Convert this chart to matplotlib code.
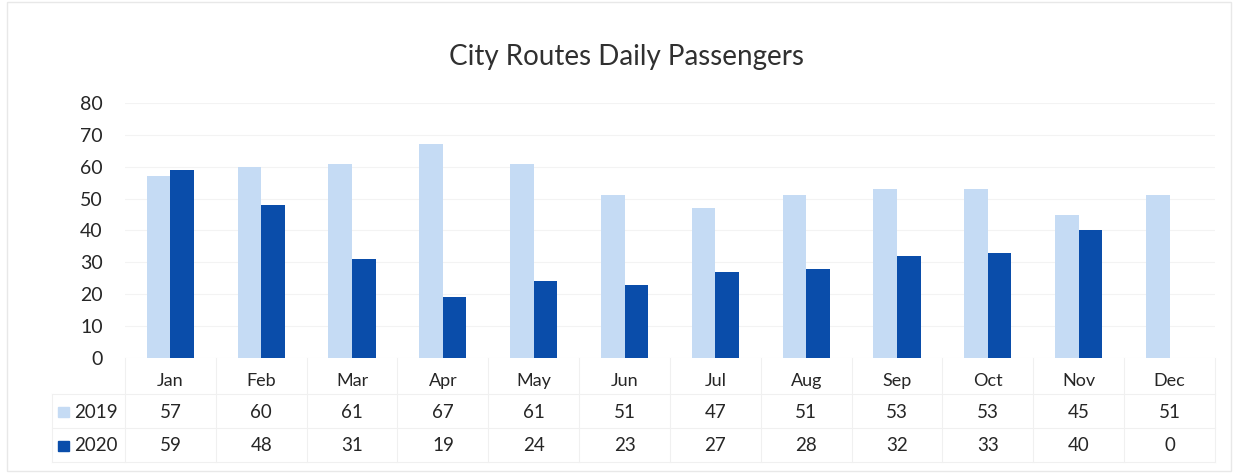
import matplotlib.pyplot as plt
import matplotlib.transforms as mtransforms
from matplotlib.patches import Rectangle
import numpy as np

plt.rcParams['font.family'] = ['Lato', 'DejaVu Sans']

months = ['Jan', 'Feb', 'Mar', 'Apr', 'May', 'Jun', 'Jul', 'Aug', 'Sep', 'Oct', 'Nov', 'Dec']
series_names = ['2019', '2020']
pass_2019 = [57, 60, 61, 67, 61, 51, 47, 51, 53, 53, 45, 51]
pass_2020 = [59, 48, 31, 19, 24, 23, 27, 28, 32, 33, 40, 0]
yticks = [0, 10, 20, 30, 40, 50, 60, 70, 80]

light = '#C5DBF4'
dark = '#0A4DAA'
text_col = '#262626'

fig = plt.figure(figsize=(12.41, 4.76), dpi=100)
ax = fig.add_axes([0.1007, 0.248, 0.8783, 0.5356])

x = np.arange(len(months))
w = 0.26
ax.bar(x - w / 2, pass_2019, w, color=light, label='2019')
ax.bar(x + w / 2, pass_2020, w, color=dark, label='2020')

ax.set_xlim(-0.5, len(months) - 0.5)
ax.set_ylim(0, 80)
ax.set_yticks(yticks)
ax.set_yticklabels([str(v) for v in yticks], fontsize=14, color=text_col)
ax.tick_params(axis='y', length=0, pad=16)
ax.set_xticks(x)
ax.set_xticklabels(months, fontsize=13, color=text_col)
ax.tick_params(axis='x', length=0, pad=11)
ax.grid(axis='y', color='#f3f3f3', linewidth=0.8)
ax.set_axisbelow(True)
for s in ax.spines.values():
    s.set_visible(False)

# title centred on the whole chart, not the plot area
fig.text(0.505, 0.88, 'City Routes Daily Passengers', fontsize=20, color='#303030',
         ha='center', va='center')

# data table under the axis
trans = mtransforms.blended_transform_factory(ax.transData, ax.transAxes)
row_y = [-0.212, -0.345]
for yy, vals in zip(row_y, [pass_2019, pass_2020]):
    for xi, v in zip(x, vals):
        ax.text(xi, yy, str(v), transform=trans, ha='center', va='center',
                fontsize=13.5, color=text_col, clip_on=False)

# row labels with legend keys
for yy, name, col in zip(row_y, series_names, [light, dark]):
    ax.text(-0.58, yy, name, transform=trans, ha='right', va='center',
            fontsize=13.5, color=text_col, clip_on=False)
    ax.add_patch(Rectangle((-1.24, yy - 0.021), 0.12, 0.042, transform=trans,
                           color=col, clip_on=False))

# faint table lines
line_col = '#f0f0f0'
for b in np.arange(-0.5, len(months), 1.0):
    ax.plot([b, b], [0, -0.41], transform=trans, color=line_col, lw=0.8, clip_on=False)
for yy in [-0.14, -0.275, -0.41]:
    ax.plot([-1.3, len(months) - 0.5], [yy, yy], transform=trans, color=line_col,
            lw=0.8, clip_on=False)
ax.plot([-1.3, -1.3], [-0.14, -0.41], transform=trans, color=line_col, lw=0.8, clip_on=False)

# faint chart frame
fig.patches.append(Rectangle((0.006, 0.01), 0.986, 0.985, transform=fig.transFigure,
                             fill=False, edgecolor='#e8e8e8', lw=1))

fig.savefig('out.png', dpi=100)
